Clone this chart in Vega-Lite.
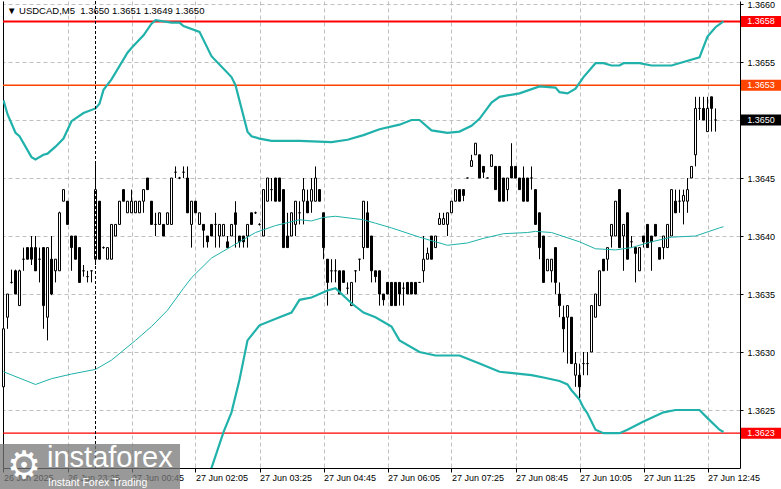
{
"$schema": "https://vega.github.io/schema/vega-lite/v6.json",
"width": 737, "height": 467,
"autosize": {"type": "none"},
"padding": {"left": 3, "top": 1, "right": 41, "bottom": 21},
"background": "white",
"config": {"view": {"stroke": null}, "font": "Liberation Sans"},
"title": {"text": "▼ USDCAD,M5\u00a0\u00a01.3650 1.3651 1.3649 1.3650", "anchor": "start", "frame": "group", "orient": "top", "offset": -23, "dx": 4, "font": "Liberation Sans", "fontSize": 9.5, "fontWeight": "normal", "color": "black", "baseline": "alphabetic"},
"datasets": {
"candles": [
{"i":0,"o":1.3627,"h":1.36321,"l":1.36268,"c":1.3632},
{"i":1,"o":1.3633,"h":1.3635,"l":1.3632,"c":1.3635},
{"i":2,"o":1.3636,"h":1.36371,"l":1.36359,"c":1.3636},
{"i":3,"o":1.3637,"h":1.36371,"l":1.3635,"c":1.3635},
{"i":4,"o":1.3634,"h":1.36371,"l":1.3634,"c":1.3637},
{"i":5,"o":1.3638,"h":1.3639,"l":1.3637,"c":1.3638},
{"i":6,"o":1.3639,"h":1.3639,"l":1.3638,"c":1.3638},
{"i":7,"o":1.3639,"h":1.364,"l":1.36375,"c":1.3638},
{"i":8,"o":1.3639,"h":1.364,"l":1.3637,"c":1.3637},
{"i":9,"o":1.3638,"h":1.3639,"l":1.3636,"c":1.3638},
{"i":10,"o":1.3639,"h":1.3639,"l":1.3632,"c":1.3634},
{"i":11,"o":1.3633,"h":1.3639,"l":1.3631,"c":1.3639},
{"i":12,"o":1.3638,"h":1.364,"l":1.36349,"c":1.3635},
{"i":13,"o":1.3637,"h":1.3638,"l":1.3636,"c":1.3638},
{"i":14,"o":1.3637,"h":1.36421,"l":1.3637,"c":1.3642},
{"i":15,"o":1.3643,"h":1.3644,"l":1.3643,"c":1.3644},
{"i":16,"o":1.3643,"h":1.3643,"l":1.3641,"c":1.3641},
{"i":17,"o":1.364,"h":1.364,"l":1.3637,"c":1.3639},
{"i":18,"o":1.364,"h":1.364,"l":1.3638,"c":1.3638},
{"i":19,"o":1.3639,"h":1.3639,"l":1.3636,"c":1.3636},
{"i":20,"o":1.3637,"h":1.36375,"l":1.36365,"c":1.3637},
{"i":21,"o":1.36365,"h":1.3637,"l":1.3636,"c":1.36365},
{"i":22,"o":1.3637,"h":1.3637,"l":1.3636,"c":1.3637},
{"i":23,"o":1.3638,"h":1.36462,"l":1.36375,"c":1.3644},
{"i":24,"o":1.3643,"h":1.3643,"l":1.3638,"c":1.3638},
{"i":25,"o":1.3639,"h":1.36391,"l":1.36389,"c":1.3639},
{"i":26,"o":1.3638,"h":1.3639,"l":1.3638,"c":1.3639},
{"i":27,"o":1.3638,"h":1.3641,"l":1.3638,"c":1.3641},
{"i":28,"o":1.364,"h":1.3641,"l":1.364,"c":1.3641},
{"i":29,"o":1.3641,"h":1.3643,"l":1.3641,"c":1.3643},
{"i":30,"o":1.3644,"h":1.3644,"l":1.3643,"c":1.3643},
{"i":31,"o":1.3642,"h":1.3643,"l":1.3642,"c":1.3643},
{"i":32,"o":1.3642,"h":1.3644,"l":1.3642,"c":1.3643},
{"i":33,"o":1.3642,"h":1.3643,"l":1.3642,"c":1.3643},
{"i":34,"o":1.3642,"h":1.3643,"l":1.3642,"c":1.3643},
{"i":35,"o":1.3643,"h":1.3644,"l":1.3642,"c":1.3644},
{"i":36,"o":1.3645,"h":1.3645,"l":1.3644,"c":1.3644},
{"i":37,"o":1.3643,"h":1.3643,"l":1.3641,"c":1.3641},
{"i":38,"o":1.3641,"h":1.3642,"l":1.364,"c":1.3641},
{"i":39,"o":1.3641,"h":1.3642,"l":1.3641,"c":1.3642},
{"i":40,"o":1.3641,"h":1.3641,"l":1.364,"c":1.364},
{"i":41,"o":1.3641,"h":1.3642,"l":1.3641,"c":1.3642},
{"i":42,"o":1.3641,"h":1.3645,"l":1.3641,"c":1.3645},
{"i":43,"o":1.36455,"h":1.3646,"l":1.3645,"c":1.36455},
{"i":44,"o":1.3645,"h":1.36451,"l":1.36449,"c":1.3645},
{"i":45,"o":1.36455,"h":1.3646,"l":1.3645,"c":1.36455},
{"i":46,"o":1.3645,"h":1.3646,"l":1.3642,"c":1.3642},
{"i":47,"o":1.3641,"h":1.3643,"l":1.3639,"c":1.3643},
{"i":48,"o":1.3643,"h":1.3643,"l":1.3642,"c":1.3642},
{"i":49,"o":1.3641,"h":1.3642,"l":1.3641,"c":1.3642},
{"i":50,"o":1.3641,"h":1.3641,"l":1.3639,"c":1.36405},
{"i":51,"o":1.364,"h":1.364,"l":1.3639,"c":1.36395},
{"i":52,"o":1.3641,"h":1.3641,"l":1.364,"c":1.364},
{"i":53,"o":1.3641,"h":1.3642,"l":1.3639,"c":1.3641},
{"i":54,"o":1.364,"h":1.3641,"l":1.3639,"c":1.3641},
{"i":55,"o":1.364,"h":1.3641,"l":1.364,"c":1.3641},
{"i":56,"o":1.36395,"h":1.364,"l":1.3639,"c":1.3639},
{"i":57,"o":1.364,"h":1.3641,"l":1.364,"c":1.3641},
{"i":58,"o":1.3642,"h":1.3643,"l":1.3639,"c":1.3641},
{"i":59,"o":1.364,"h":1.364,"l":1.3639,"c":1.36395},
{"i":60,"o":1.364,"h":1.364,"l":1.3639,"c":1.36395},
{"i":61,"o":1.364,"h":1.3641,"l":1.3639,"c":1.3641},
{"i":62,"o":1.3642,"h":1.3642,"l":1.3641,"c":1.3641},
{"i":63,"o":1.3642,"h":1.36421,"l":1.36419,"c":1.3642},
{"i":64,"o":1.3641,"h":1.36411,"l":1.36409,"c":1.3641},
{"i":65,"o":1.364,"h":1.3644,"l":1.364,"c":1.3644},
{"i":66,"o":1.3643,"h":1.3645,"l":1.3643,"c":1.3645},
{"i":67,"o":1.3644,"h":1.3645,"l":1.3643,"c":1.3644},
{"i":68,"o":1.3645,"h":1.3645,"l":1.3643,"c":1.3643},
{"i":69,"o":1.3645,"h":1.3645,"l":1.3643,"c":1.3643},
{"i":70,"o":1.3644,"h":1.3644,"l":1.3639,"c":1.3639},
{"i":71,"o":1.364,"h":1.3642,"l":1.3639,"c":1.3639},
{"i":72,"o":1.364,"h":1.3642,"l":1.364,"c":1.3642},
{"i":73,"o":1.3641,"h":1.3643,"l":1.364,"c":1.3643},
{"i":74,"o":1.3642,"h":1.3643,"l":1.3641,"c":1.3642},
{"i":75,"o":1.3643,"h":1.3645,"l":1.3641,"c":1.3644},
{"i":76,"o":1.3643,"h":1.3644,"l":1.3642,"c":1.3642},
{"i":77,"o":1.3643,"h":1.3645,"l":1.3642,"c":1.3644},
{"i":78,"o":1.3643,"h":1.3646,"l":1.3643,"c":1.3645},
{"i":79,"o":1.3644,"h":1.3644,"l":1.3643,"c":1.3643},
{"i":80,"o":1.3642,"h":1.3642,"l":1.3638,"c":1.3639},
{"i":81,"o":1.3638,"h":1.3638,"l":1.3634,"c":1.3636},
{"i":82,"o":1.3637,"h":1.3638,"l":1.3636,"c":1.3637},
{"i":83,"o":1.3637,"h":1.3638,"l":1.3636,"c":1.3637},
{"i":84,"o":1.3637,"h":1.3637,"l":1.3635,"c":1.3635},
{"i":85,"o":1.3637,"h":1.3637,"l":1.3636,"c":1.3636},
{"i":86,"o":1.36355,"h":1.3636,"l":1.3635,"c":1.36355},
{"i":87,"o":1.3634,"h":1.3636,"l":1.3634,"c":1.3636},
{"i":88,"o":1.3637,"h":1.3637,"l":1.3636,"c":1.3637},
{"i":89,"o":1.3638,"h":1.3638,"l":1.3637,"c":1.3638},
{"i":90,"o":1.3639,"h":1.3643,"l":1.3638,"c":1.3643},
{"i":91,"o":1.3642,"h":1.3643,"l":1.3639,"c":1.3639},
{"i":92,"o":1.364,"h":1.364,"l":1.3636,"c":1.3637},
{"i":93,"o":1.3637,"h":1.3637,"l":1.3636,"c":1.36365},
{"i":94,"o":1.3637,"h":1.3637,"l":1.3634,"c":1.3635},
{"i":95,"o":1.3635,"h":1.3635,"l":1.3634,"c":1.36345},
{"i":96,"o":1.3636,"h":1.3636,"l":1.3635,"c":1.3635},
{"i":97,"o":1.3636,"h":1.3636,"l":1.3634,"c":1.3634},
{"i":98,"o":1.3636,"h":1.3636,"l":1.3634,"c":1.3634},
{"i":99,"o":1.3636,"h":1.3636,"l":1.3634,"c":1.3635},
{"i":100,"o":1.36355,"h":1.3636,"l":1.3634,"c":1.36355},
{"i":101,"o":1.3636,"h":1.3636,"l":1.3635,"c":1.3635},
{"i":102,"o":1.3636,"h":1.3636,"l":1.3635,"c":1.3635},
{"i":103,"o":1.3636,"h":1.3636,"l":1.3635,"c":1.3635},
{"i":104,"o":1.3636,"h":1.3636,"l":1.3636,"c":1.3636},
{"i":105,"o":1.3637,"h":1.364,"l":1.3636,"c":1.3638},
{"i":106,"o":1.3638,"h":1.3639,"l":1.3638,"c":1.36385},
{"i":107,"o":1.364,"h":1.364,"l":1.3638,"c":1.3638},
{"i":108,"o":1.3639,"h":1.364,"l":1.3639,"c":1.364},
{"i":109,"o":1.3641,"h":1.3642,"l":1.3641,"c":1.36415},
{"i":110,"o":1.3641,"h":1.3642,"l":1.3641,"c":1.36415},
{"i":111,"o":1.3641,"h":1.3642,"l":1.364,"c":1.3642},
{"i":112,"o":1.3642,"h":1.3643,"l":1.3642,"c":1.3643},
{"i":113,"o":1.3643,"h":1.3644,"l":1.3643,"c":1.3644},
{"i":114,"o":1.3644,"h":1.3644,"l":1.3643,"c":1.3643},
{"i":115,"o":1.3644,"h":1.3644,"l":1.3643,"c":1.36435},
{"i":116,"o":1.3645,"h":1.3645,"l":1.3645,"c":1.3645},
{"i":117,"o":1.3646,"h":1.3647,"l":1.3646,"c":1.36465},
{"i":118,"o":1.3647,"h":1.3648,"l":1.3647,"c":1.3648},
{"i":119,"o":1.3647,"h":1.3647,"l":1.3645,"c":1.3645},
{"i":120,"o":1.3646,"h":1.3646,"l":1.3645,"c":1.36455},
{"i":121,"o":1.3645,"h":1.3645,"l":1.3645,"c":1.3645},
{"i":122,"o":1.3646,"h":1.3647,"l":1.3646,"c":1.3647},
{"i":123,"o":1.3646,"h":1.3646,"l":1.3644,"c":1.3644},
{"i":124,"o":1.3646,"h":1.3646,"l":1.3643,"c":1.3643},
{"i":125,"o":1.3645,"h":1.3645,"l":1.3643,"c":1.3643},
{"i":126,"o":1.3644,"h":1.3645,"l":1.3643,"c":1.3645},
{"i":127,"o":1.3646,"h":1.3648,"l":1.3645,"c":1.3645},
{"i":128,"o":1.3646,"h":1.3646,"l":1.3645,"c":1.3645},
{"i":129,"o":1.3645,"h":1.3645,"l":1.3644,"c":1.3644},
{"i":130,"o":1.3645,"h":1.3646,"l":1.3643,"c":1.3643},
{"i":131,"o":1.3645,"h":1.3645,"l":1.3643,"c":1.3643},
{"i":132,"o":1.3645,"h":1.3646,"l":1.3644,"c":1.3645},
{"i":133,"o":1.3644,"h":1.3644,"l":1.3641,"c":1.3641},
{"i":134,"o":1.3642,"h":1.3642,"l":1.3638,"c":1.3639},
{"i":135,"o":1.364,"h":1.364,"l":1.3636,"c":1.3636},
{"i":136,"o":1.3637,"h":1.3638,"l":1.3637,"c":1.3638},
{"i":137,"o":1.3637,"h":1.3638,"l":1.3636,"c":1.3638},
{"i":138,"o":1.3639,"h":1.3639,"l":1.3635,"c":1.3636},
{"i":139,"o":1.3635,"h":1.3636,"l":1.3633,"c":1.3634},
{"i":140,"o":1.3633,"h":1.3634,"l":1.363,"c":1.3632},
{"i":141,"o":1.3633,"h":1.3634,"l":1.3629,"c":1.3634},
{"i":142,"o":1.3633,"h":1.3633,"l":1.3629,"c":1.3629},
{"i":143,"o":1.3628,"h":1.363,"l":1.3627,"c":1.3629},
{"i":144,"o":1.3628,"h":1.3629,"l":1.3626,"c":1.3627},
{"i":145,"o":1.3629,"h":1.363,"l":1.3628,"c":1.3629},
{"i":146,"o":1.3629,"h":1.363,"l":1.3628,"c":1.3629},
{"i":147,"o":1.363,"h":1.3634,"l":1.363,"c":1.3634},
{"i":148,"o":1.3633,"h":1.3635,"l":1.3633,"c":1.3635},
{"i":149,"o":1.3634,"h":1.3637,"l":1.3634,"c":1.3637},
{"i":150,"o":1.3638,"h":1.3638,"l":1.3637,"c":1.3637},
{"i":151,"o":1.3638,"h":1.3639,"l":1.3637,"c":1.3639},
{"i":152,"o":1.364,"h":1.3641,"l":1.3639,"c":1.3641},
{"i":153,"o":1.364,"h":1.3643,"l":1.364,"c":1.3643},
{"i":154,"o":1.3644,"h":1.3644,"l":1.3639,"c":1.3639},
{"i":155,"o":1.364,"h":1.3641,"l":1.3637,"c":1.3641},
{"i":156,"o":1.3642,"h":1.3642,"l":1.3638,"c":1.3638},
{"i":157,"o":1.36395,"h":1.364,"l":1.3639,"c":1.36395},
{"i":158,"o":1.3639,"h":1.3639,"l":1.3636,"c":1.36385},
{"i":159,"o":1.3637,"h":1.3639,"l":1.3637,"c":1.3639},
{"i":160,"o":1.364,"h":1.364,"l":1.3639,"c":1.36395},
{"i":161,"o":1.3641,"h":1.3641,"l":1.3639,"c":1.3639},
{"i":162,"o":1.364,"h":1.364,"l":1.3637,"c":1.36395},
{"i":163,"o":1.3641,"h":1.3641,"l":1.364,"c":1.364},
{"i":164,"o":1.3639,"h":1.3639,"l":1.3638,"c":1.3638},
{"i":165,"o":1.3639,"h":1.364,"l":1.3638,"c":1.364},
{"i":166,"o":1.3639,"h":1.3641,"l":1.3639,"c":1.3641},
{"i":167,"o":1.364,"h":1.3644,"l":1.364,"c":1.3644},
{"i":168,"o":1.3643,"h":1.3644,"l":1.3642,"c":1.3642},
{"i":169,"o":1.3643,"h":1.3644,"l":1.3642,"c":1.3643},
{"i":170,"o":1.3643,"h":1.3644,"l":1.3641,"c":1.36435},
{"i":171,"o":1.3643,"h":1.3645,"l":1.3642,"c":1.3644},
{"i":172,"o":1.3645,"h":1.3646,"l":1.3645,"c":1.3646},
{"i":173,"o":1.3647,"h":1.3652,"l":1.3646,"c":1.3651},
{"i":174,"o":1.3651,"h":1.3652,"l":1.365,"c":1.3651},
{"i":175,"o":1.3651,"h":1.3652,"l":1.365,"c":1.365},
{"i":176,"o":1.3649,"h":1.3652,"l":1.3649,"c":1.3651},
{"i":177,"o":1.3652,"h":1.3652,"l":1.3649,"c":1.3651},
{"i":178,"o":1.365,"h":1.3651,"l":1.3649,"c":1.365}
],
"bands": [
{"b":"upper","i":0,"v":1.36517},{"b":"upper","i":1,"v":1.36505},{"b":"upper","i":3,"v":1.36489},{"b":"upper","i":4,"v":1.36486},{"b":"upper","i":7,"v":1.36468},{"b":"upper","i":8,"v":1.36466},{"b":"upper","i":10,"v":1.3647},{"b":"upper","i":11,"v":1.36471},{"b":"upper","i":13,"v":1.36477},{"b":"upper","i":15,"v":1.36484},{"b":"upper","i":17,"v":1.36499},{"b":"upper","i":20,"v":1.36506},{"b":"upper","i":23,"v":1.3651},{"b":"upper","i":24,"v":1.36514},{"b":"upper","i":25,"v":1.36526},{"b":"upper","i":27,"v":1.36535},{"b":"upper","i":31,"v":1.36558},{"b":"upper","i":32,"v":1.36562},{"b":"upper","i":35,"v":1.36573},{"b":"upper","i":37,"v":1.36583},{"b":"upper","i":38,"v":1.36586},{"b":"upper","i":42,"v":1.36584},{"b":"upper","i":44,"v":1.36584},{"b":"upper","i":45,"v":1.36581},{"b":"upper","i":49,"v":1.36576},{"b":"upper","i":52,"v":1.36555},{"b":"upper","i":57,"v":1.36537},{"b":"upper","i":58,"v":1.3653},{"b":"upper","i":61,"v":1.3649},{"b":"upper","i":62,"v":1.36486},{"b":"upper","i":64,"v":1.36484},{"b":"upper","i":67,"v":1.36482},{"b":"upper","i":74,"v":1.36482},{"b":"upper","i":82,"v":1.36481},{"b":"upper","i":86,"v":1.36483},{"b":"upper","i":90,"v":1.36487},{"b":"upper","i":94,"v":1.36492},{"b":"upper","i":99,"v":1.36496},{"b":"upper","i":102,"v":1.365},{"b":"upper","i":104,"v":1.365},{"b":"upper","i":107,"v":1.36491},{"b":"upper","i":111,"v":1.36489},{"b":"upper","i":114,"v":1.3649},{"b":"upper","i":117,"v":1.36495},{"b":"upper","i":119,"v":1.36501},{"b":"upper","i":122,"v":1.36515},{"b":"upper","i":124,"v":1.3652},{"b":"upper","i":129,"v":1.36523},{"b":"upper","i":134,"v":1.36529},{"b":"upper","i":138,"v":1.36528},{"b":"upper","i":139,"v":1.36524},{"b":"upper","i":141,"v":1.36523},{"b":"upper","i":143,"v":1.36527},{"b":"upper","i":145,"v":1.36537},{"b":"upper","i":148,"v":1.36549},{"b":"upper","i":150,"v":1.36549},{"b":"upper","i":152,"v":1.36547},{"b":"upper","i":154,"v":1.36547},{"b":"upper","i":155,"v":1.36549},{"b":"upper","i":159,"v":1.36549},{"b":"upper","i":162,"v":1.36547},{"b":"upper","i":167,"v":1.36547},{"b":"upper","i":170,"v":1.3655},{"b":"upper","i":174,"v":1.36554},{"b":"upper","i":176,"v":1.36572},{"b":"upper","i":178,"v":1.3658},{"b":"upper","i":180,"v":1.36585},
{"b":"middle","i":0,"v":1.36283},{"b":"middle","i":8,"v":1.36272},{"b":"middle","i":12,"v":1.36277},{"b":"middle","i":17,"v":1.36281},{"b":"middle","i":23,"v":1.36285},{"b":"middle","i":27,"v":1.36293},{"b":"middle","i":33,"v":1.3631},{"b":"middle","i":37,"v":1.36322},{"b":"middle","i":41,"v":1.36336},{"b":"middle","i":45,"v":1.36355},{"b":"middle","i":47,"v":1.36364},{"b":"middle","i":52,"v":1.36381},{"b":"middle","i":57,"v":1.36391},{"b":"middle","i":63,"v":1.36403},{"b":"middle","i":68,"v":1.36409},{"b":"middle","i":74,"v":1.36414},{"b":"middle","i":77,"v":1.36413},{"b":"middle","i":80,"v":1.36416},{"b":"middle","i":83,"v":1.36417},{"b":"middle","i":90,"v":1.36414},{"b":"middle","i":93,"v":1.36411},{"b":"middle","i":97,"v":1.36407},{"b":"middle","i":104,"v":1.36399},{"b":"middle","i":111,"v":1.36392},{"b":"middle","i":116,"v":1.36394},{"b":"middle","i":120,"v":1.36398},{"b":"middle","i":125,"v":1.36402},{"b":"middle","i":131,"v":1.36403},{"b":"middle","i":133,"v":1.36404},{"b":"middle","i":137,"v":1.36403},{"b":"middle","i":144,"v":1.36395},{"b":"middle","i":148,"v":1.36389},{"b":"middle","i":153,"v":1.36388},{"b":"middle","i":157,"v":1.3639},{"b":"middle","i":162,"v":1.36395},{"b":"middle","i":167,"v":1.36399},{"b":"middle","i":173,"v":1.364},{"b":"middle","i":179,"v":1.36407},{"b":"middle","i":180,"v":1.36408},
{"b":"lower","i":50,"v":1.3616},{"b":"lower","i":52,"v":1.362},{"b":"lower","i":55,"v":1.36231},{"b":"lower","i":57,"v":1.36248},{"b":"lower","i":59,"v":1.36276},{"b":"lower","i":61,"v":1.3631},{"b":"lower","i":64,"v":1.36323},{"b":"lower","i":69,"v":1.3633},{"b":"lower","i":72,"v":1.36334},{"b":"lower","i":74,"v":1.36345},{"b":"lower","i":77,"v":1.36347},{"b":"lower","i":81,"v":1.36353},{"b":"lower","i":83,"v":1.36355},{"b":"lower","i":87,"v":1.36342},{"b":"lower","i":90,"v":1.36334},{"b":"lower","i":93,"v":1.3633},{"b":"lower","i":97,"v":1.36322},{"b":"lower","i":99,"v":1.3631},{"b":"lower","i":104,"v":1.363},{"b":"lower","i":108,"v":1.36297},{"b":"lower","i":114,"v":1.36297},{"b":"lower","i":119,"v":1.3629},{"b":"lower","i":124,"v":1.36283},{"b":"lower","i":132,"v":1.3628},{"b":"lower","i":135,"v":1.36278},{"b":"lower","i":139,"v":1.36275},{"b":"lower","i":141,"v":1.36272},{"b":"lower","i":142,"v":1.36267},{"b":"lower","i":144,"v":1.36259},{"b":"lower","i":145,"v":1.36252},{"b":"lower","i":146,"v":1.36247},{"b":"lower","i":148,"v":1.36233},{"b":"lower","i":150,"v":1.3623},{"b":"lower","i":154,"v":1.3623},{"b":"lower","i":156,"v":1.36233},{"b":"lower","i":160,"v":1.3624},{"b":"lower","i":165,"v":1.36248},{"b":"lower","i":168,"v":1.3625},{"b":"lower","i":174,"v":1.3625},{"b":"lower","i":176,"v":1.36243},{"b":"lower","i":179,"v":1.36233},{"b":"lower","i":180,"v":1.36231}
],
"levels": [
{"label":"1.3658","price":1.36585,"kind":"resistance"},
{"label":"1.3653","price":1.3653,"kind":"pivot"},
{"label":"1.3623","price":1.3623,"kind":"support"},
{"label":"1.3650","price":1.365,"kind":"bid"}
],
"watermark": [{"brand":"instaforex","slogan":"Instant Forex Trading","logo":"⚙"}]
},
"layer": [
{
"data": {"name": "levels"},
"transform": [{"filter": "datum.kind !== 'bid'"}],
"mark": {"type": "rule"},
"encoding": {
"y": {"field": "price", "type": "quantitative", "axis": null},
"color": {"field": "kind", "type": "nominal", "legend": null, "scale": {"domain": ["resistance","pivot","support","bid"], "range": ["#ff0000","#ff4500","#ff0000","#000000"]}},
"strokeWidth": {"field": "kind", "type": "nominal", "legend": null, "scale": {"domain": ["resistance","pivot","support","bid"], "range": [2,1,2,0]}}
}
},
{
"data": {"name": "candles"},
"mark": {"type": "rule", "color": "black", "strokeWidth": 1},
"encoding": {
"x": {"field": "i", "type": "quantitative", "title": null,
"scale": {"domain": [-0.125, 184.125], "nice": false, "zero": false, "padding": 0},
"axis": {"values": [0,8,16,24,32,40,48,56,64,72,80,88,96,104,112,120,128,136,144,152,160,168,176],
"grid": true, "gridDash": [4,3], "gridColor": "#c0c0c0", "gridWidth": 1,
"domain": true, "domainColor": "black", "domainWidth": 1,
"ticks": true, "tickColor": "black", "tickSize": 4, "tickWidth": 1,
"tickOpacity": {"condition": {"test": "datum.value % 16 === 0", "value": 1}, "value": 0},
"labelExpr": "datum.value % 16 === 0 ? ['26 Jun 2025','26 Jun 23:25','27 Jun 00:45','27 Jun 02:05','27 Jun 03:25','27 Jun 04:45','27 Jun 06:05','27 Jun 07:25','27 Jun 08:45','27 Jun 10:05','27 Jun 11:25','27 Jun 12:45'][datum.value/16] : ''",
"labelAlign": "left", "labelBaseline": "top", "labelFont": "Liberation Sans", "labelFontSize": 9, "labelColor": "black", "labelPadding": 1,
"labelOverlap": false, "labelBound": false, "labelFlush": false, "title": null}},
"y": {"field": "l", "type": "quantitative", "title": null,
"scale": {"domain": [1.362, 1.366026], "nice": false, "zero": false, "padding": 0},
"axis": {"orient": "right", "values": [1.3625,1.363,1.3635,1.364,1.3645,1.365,1.3655,1.366],
"labelExpr": "abs(datum.value - 1.365) < 0.00001 ? '' : format(datum.value, '.4f')",
"grid": true, "gridDash": [4,3], "gridColor": "#c0c0c0", "gridWidth": 1,
"domain": true, "domainColor": "black", "domainWidth": 1,
"ticks": true, "tickColor": "black", "tickSize": 3,
"labelFont": "Liberation Sans", "labelFontSize": 9, "labelColor": "black", "labelPadding": 4, "labelBaseline": "middle",
"labelOverlap": false, "labelBound": false, "title": null}},
"y2": {"field": "h"}
}
},
{
"data": {"name": "candles"},
"mark": {"type": "bar", "size": 2, "stroke": "black", "strokeWidth": 1},
"encoding": {
"x": {"field": "i", "type": "quantitative", "title": null},
"y": {"field": "o", "type": "quantitative", "title": null,
"axis": {"orient": "left", "labels": false, "ticks": false, "grid": false, "domain": true, "domainColor": "black", "title": null}},
"y2": {"field": "c"},
"fill": {"condition": {"test": "datum.c >= datum.o", "value": "white"}, "value": "black"}
}
},
{
"data": {"name": "bands"},
"transform": [{"filter": "datum.b === 'middle'"}],
"mark": {"type": "line", "clip": true, "color": "#20b2aa", "strokeWidth": 1},
"encoding": {
"x": {"field": "i", "type": "quantitative", "title": null},
"y": {"field": "v", "type": "quantitative", "axis": null}
}
},
{
"data": {"name": "bands"},
"transform": [{"filter": "datum.b !== 'middle'"}],
"mark": {"type": "line", "clip": true, "color": "#20b2aa", "strokeWidth": 2.2},
"encoding": {
"x": {"field": "i", "type": "quantitative", "title": null},
"y": {"field": "v", "type": "quantitative", "axis": null},
"detail": {"field": "b"}
}
},
{
"data": {"name": "levels"},
"mark": {"type": "rule", "color": "black", "strokeDash": [3,2], "strokeWidth": 1},
"transform": [{"filter": "datum.kind === 'bid'"}],
"encoding": {"x": {"datum": 23}}
},
{
"data": {"name": "levels"},
"mark": {"type": "point", "filled": true, "opacity": 1, "size": 121, "shape": "M-3.64,-1H3.64V1H-3.64Z", "strokeWidth": 0},
"encoding": {
"x": {"datum": 189.375},
"y": {"field": "price", "type": "quantitative", "axis": null},
"color": {"field": "kind", "type": "nominal", "legend": null}
}
},
{
"data": {"name": "levels"},
"mark": {"type": "text", "color": "white", "font": "Liberation Sans", "fontSize": 9, "align": "center", "baseline": "middle"},
"encoding": {
"x": {"datum": 189.375},
"y": {"field": "price", "type": "quantitative", "axis": null},
"text": {"field": "label"}
}
},
{
"data": {"name": "watermark"},
"mark": {"type": "rect", "color": "#777777", "opacity": 0.75},
"encoding": {
"x": {"datum": -0.875}, "x2": {"datum": 44.125},
"y": {"datum": 1.362207, "axis": null}, "y2": {"datum": 1.361819}
}
},
{
"data": {"name": "watermark"},
"mark": {"type": "text", "color": "white", "font": "Liberation Sans", "fontSize": 29, "align": "left", "baseline": "alphabetic"},
"encoding": {"x": {"datum": 10.875}, "y": {"datum": 1.362009, "axis": null}, "text": {"field": "brand"}}
},
{
"data": {"name": "watermark"},
"mark": {"type": "text", "color": "white", "font": "Liberation Sans", "fontSize": 10.5, "align": "left", "baseline": "alphabetic"},
"encoding": {"x": {"datum": 11.125}, "y": {"datum": 1.361845, "axis": null}, "text": {"field": "slogan"}}
},
{
"data": {"name": "watermark"},
"mark": {"type": "text", "color": "white", "font": "DejaVu Sans", "fontSize": 38, "align": "center", "baseline": "middle"},
"encoding": {"x": {"datum": 5.125}, "y": {"datum": 1.362009, "axis": null}, "text": {"field": "logo"}}
}
],
"resolve": {"axis": {"y": "independent"}}
}
